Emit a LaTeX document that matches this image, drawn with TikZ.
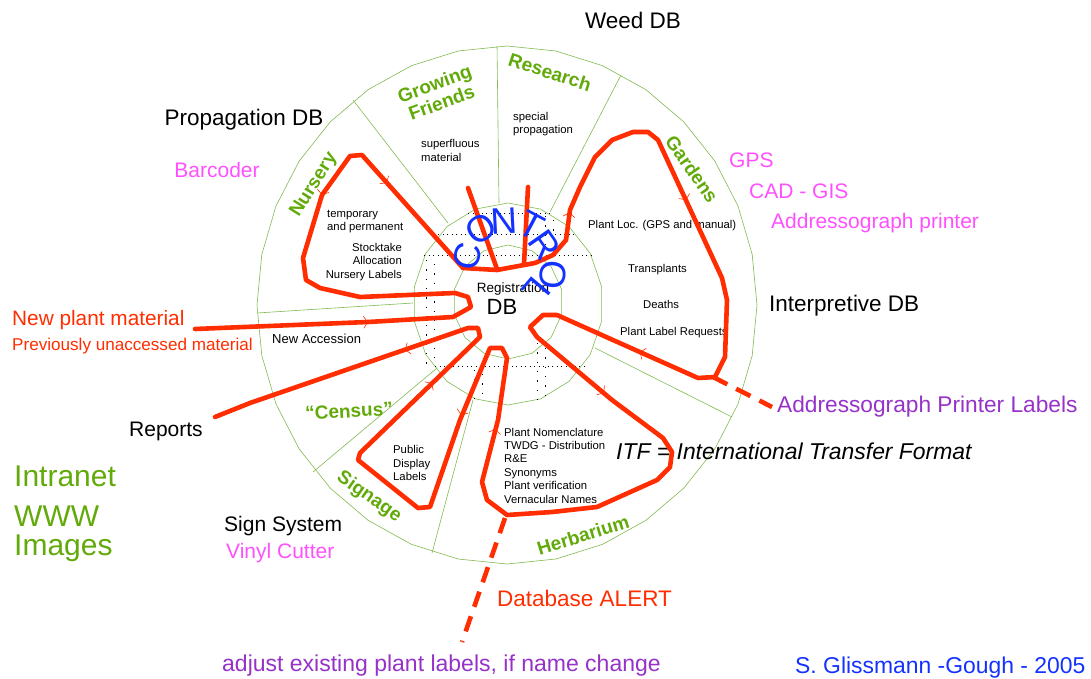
\documentclass[tikz,border=0pt]{standalone}
\usepackage{fontspec}
\setmainfont{Liberation Sans}
\usepackage{tikz}
\usetikzlibrary{arrows.meta}
\usetikzlibrary{decorations.markings}

\definecolor{leafgreen}{RGB}{98,170,10}
\definecolor{spokegreen}{RGB}{130,185,80}
\definecolor{toolpink}{RGB}{255,80,255}
\definecolor{notepurple}{RGB}{150,50,200}
\definecolor{flowred}{RGB}{255,45,0}
\definecolor{ctrlblue}{RGB}{20,50,255}

\tikzset{
  bigtext/.style={font=\fontsize{22.5}{26}\selectfont},
  tool/.style={text=toolpink, font=\fontsize{21}{25}\selectfont},
  memo/.style={font=\fontsize{11.3}{13.4}\selectfont, align=left},
  sector/.style={text=leafgreen, font=\bfseries\fontsize{19}{20}\selectfont, align=center},
  ring/.style={draw=spokegreen, line width=0.6pt},
  dotrow/.style={line width=0.8pt, dash pattern=on 1.3pt off 3.2pt},
  dotcol/.style={line width=0.8pt, dash pattern=on 1.3pt off 8pt},
  redflow/.style={draw=flowred, line width=4.6pt, line join=round, line cap=round},
  flowdash/.style={redflow, line cap=butt, dash pattern=on 16pt off 10pt},
  chev/.style={decorate, decoration={markings, mark=at position 0.5 with {\arrow[flowred, line width=0.6pt]{Straight Barb[length=4pt, width=12pt]}}}},
  ctrl/.style={text=ctrlblue, font=\fontsize{37}{37}\selectfont}
}

\begin{document}
\begin{tikzpicture}[x=1pt, y=-1pt, every node/.style={inner sep=0pt}]
\useasboundingbox (0,0) rectangle (1091,679);

% rings and spokes
\draw[ring] plot[samples=33, domain=90:450] ({507+250*cos(\x)}, {305-259*sin(\x)}) -- cycle;
\draw[ring] plot[samples=19, domain=90:450] ({508+95*cos(\x)}, {304-101*sin(\x)}) -- cycle;
\draw[ring] plot[samples=15, domain=90:450] ({508+55*cos(\x)}, {302-57*sin(\x)}) -- cycle;
\draw[ring] (353,100) -- (448,223);
\draw[ring] (497,46) -- (499,203);
\draw[ring] (621,75) -- (550,212);
\draw[ring] (257,313) -- (413,303);
\draw[ring] (313,472) -- (437,368);
\draw[ring] (432,553) -- (473,400);
\draw[ring] (732,417) -- (595,348);

% dotted core
\draw[dotrow] (468,213) -- (553,213);
\draw[dotrow] (438,234) -- (575,234);
\draw[dotrow] (424,255) -- (591,255);
\draw[dotrow] (435,366) -- (584,366);
\draw[dotcol] (426,260) -- (426,364);
\draw[dotcol] (434,264) -- (434,364);
\draw[dotcol] (545,216) -- (545,252);
\draw[dotcol] (553,220) -- (553,252);
\draw[dotcol] (474,370) -- (474,400);
\draw[dotcol] (482,374) -- (482,400);
\draw[dotcol] (537,343) -- (537,400);
\draw[dotcol] (545,348) -- (545,400);

% sectors
\node[sector, rotate=58] (nursery) at (314,185) {Nursery};
\node[sector, rotate=20] (growing) at (438,93) {Growing\\Friends};
\node[sector, rotate=-18] (research) at (550,72) {Research};
\node[sector, rotate=-55] (gardens) at (692,169) {Gardens};
\node[sector, rotate=3] (census) at (349,411) {``Census''};
\node[sector, rotate=-35] (signage) at (369,497) {Signage};
\node[sector, rotate=17] (herbarium) at (583,535) {Herbarium};

% notes inside the wheel
\node[memo, anchor=west] (superfluous) at (421,150.5) {superfluous\\material};
\node[memo, anchor=west] (special) at (513,124) {special\\propagation};
\node[memo, anchor=west] (temporary) at (327,221.5) {temporary\\and permanent};
\node[memo, anchor=east, align=right] (stocktake) at (402,262) {Stocktake\\Allocation\\Nursery Labels};
\node[memo, anchor=west] (plantloc) at (588,226) {Plant Loc. (GPS and manual)};
\node[memo, anchor=west] (transplants) at (628,270) {Transplants};
\node[memo, anchor=west] (deaths) at (643,304) {Deaths};
\node[memo, anchor=west] (labelreq) at (620,333) {Plant Label Requests};
\node[memo, anchor=west, font=\fontsize{13}{15}\selectfont] (newacc) at (272,339) {New Accession};
\node[memo, anchor=west] (public) at (393,463) {Public\\Display\\Labels};
\node[memo, anchor=west] (nomen) at (504,465.5) {Plant Nomenclature\\TWDG - Distribution\\R\&E\\Synonyms\\Plant verification\\Vernacular Names};
\node[font=\fontsize{13.5}{15}\selectfont] (regist) at (513,289) {Registration};
\node[font=\fontsize{22}{24}\selectfont] (regdb) at (502,307) {DB};

% outside labels
\node[bigtext] (weed) at (633,20) {Weed DB};
\node[bigtext] (propdb) at (244,120) {Propagation DB};
\node[tool] (barcoder) at (217,170) {Barcoder};
\node[tool, anchor=west] (gps) at (729,160) {GPS};
\node[tool, anchor=west] (cadgis) at (749,191) {CAD - GIS};
\node[tool, anchor=west] (addrprinter) at (771,223) {Addressograph printer};
\node[bigtext, anchor=west] (interp) at (769,306) {Interpretive DB};
\node[anchor=west, text=flowred, font=\fontsize{20.8}{24}\selectfont] (newplant) at (12,320) {New plant material};
\node[anchor=west, text=flowred, font=\fontsize{17.1}{20}\selectfont] (prevun) at (12,346) {Previously unaccessed material};
\node[anchor=west, font=\fontsize{21}{24}\selectfont] (reports) at (129,431) {Reports};
\node[anchor=west, text=leafgreen, font=\fontsize{30}{34}\selectfont] (intranet) at (14,476) {Intranet};
\node[anchor=west, text=leafgreen, font=\fontsize{30}{34}\selectfont] (www) at (14,516) {WWW};
\node[anchor=west, text=leafgreen, font=\fontsize{30}{34}\selectfont] (images) at (14,548) {Images};
\node[anchor=west, font=\fontsize{21}{24}\selectfont] (signsys) at (224,526) {Sign System};
\node[tool, anchor=west] (vinyl) at (226,553) {Vinyl Cutter};
\node[anchor=west, text=flowred, font=\fontsize{22.5}{26}\selectfont] (alert) at (497,598) {Database ALERT};
\node[anchor=west, text=notepurple, font=\fontsize{23}{26}\selectfont] (adjust) at (222,666) {adjust existing plant labels, if name change};
\node[anchor=west, text=ctrlblue, font=\fontsize{22.9}{26}\selectfont] (author) at (795,668) {S. Glissmann -Gough - 2005};
\node[anchor=west, text=notepurple, font=\fontsize{22.7}{26}\selectfont] (addrlabels) at (777,407) {Addressograph Printer Labels};
\node[anchor=west, font=\itshape\fontsize{22.9}{26}\selectfont] (itf) at (616,451) {ITF = International Transfer Format};

% red flows
\draw[redflow] (195,329) -- (368,322) -- (453,317) -- (471,307) -- (468,297) -- (455,293) -- (360,297) -- (320,288) -- (306,280) -- (303,258) -- (322,195) -- (350,156) -- (362,155) -- (463,268);
\draw[redflow] (463,268) -- (497,270) -- (535,263) -- (553,255) -- (566,240) -- (570,210) -- (580,187) -- (595,157) -- (612,140) -- (633,132) -- (648,132) -- (658,140) -- (722,278) -- (727,300) -- (725,357) -- (715,377) -- (698,378) -- (557,315) -- (543,315) -- (530,327) -- (537,337) -- (612,400) -- (663,438) -- (672,452) -- (670,467) -- (657,480) -- (597,507) -- (552,512) -- (507,515) -- (487,500) -- (482,482) -- (498,420) -- (507,358) -- (502,348) -- (490,348) -- (460,420) -- (430,507) -- (418,508) -- (358,460) -- (360,453) -- (480,337) -- (478,328) -- (468,328) -- (250,403) -- (215,417);
\draw[redflow] (468,188) -- (497,269);
\draw[redflow] (528,187) -- (524,264);
\draw[flowdash] (713,377) -- (772,407);
\draw[flowdash] (505,518) -- (462,642);

% direction marks
\path[chev] (360,322.4) -- (376,321.7);
\path[chev] (324,188) -- (320,202);
\path[chev] (382,177.4) -- (392,188.6);
\path[chev] (568.5,220) -- (570.5,205);
\path[chev] (683,193.5) -- (689,206.5);
\path[chev] (647,355) -- (633,349);
\path[chev] (598,388) -- (610,398);
\path[chev] (494,436) -- (497,422);
\path[chev] (463,410) -- (459,420);
\path[chev] (428,387) -- (436,379);
\path[chev] (410,348) -- (400,351.5);

% CONTROL
\node[ctrl, rotate=76] (ctrlc) at (467,256) {C};
\node[ctrl, rotate=35] (ctrlo) at (481,229) {O};
\node[ctrl, rotate=3] (ctrln) at (504,221) {N};
\node[ctrl, rotate=-28] (ctrlt) at (531,226) {T};
\node[ctrl, rotate=-55] (ctrlr) at (545,245) {R};
\node[ctrl, rotate=-95] (ctrlo2) at (553,275) {O};
\node[ctrl, rotate=-130] (ctrll) at (537,291) {L};
\end{tikzpicture}
\end{document}
